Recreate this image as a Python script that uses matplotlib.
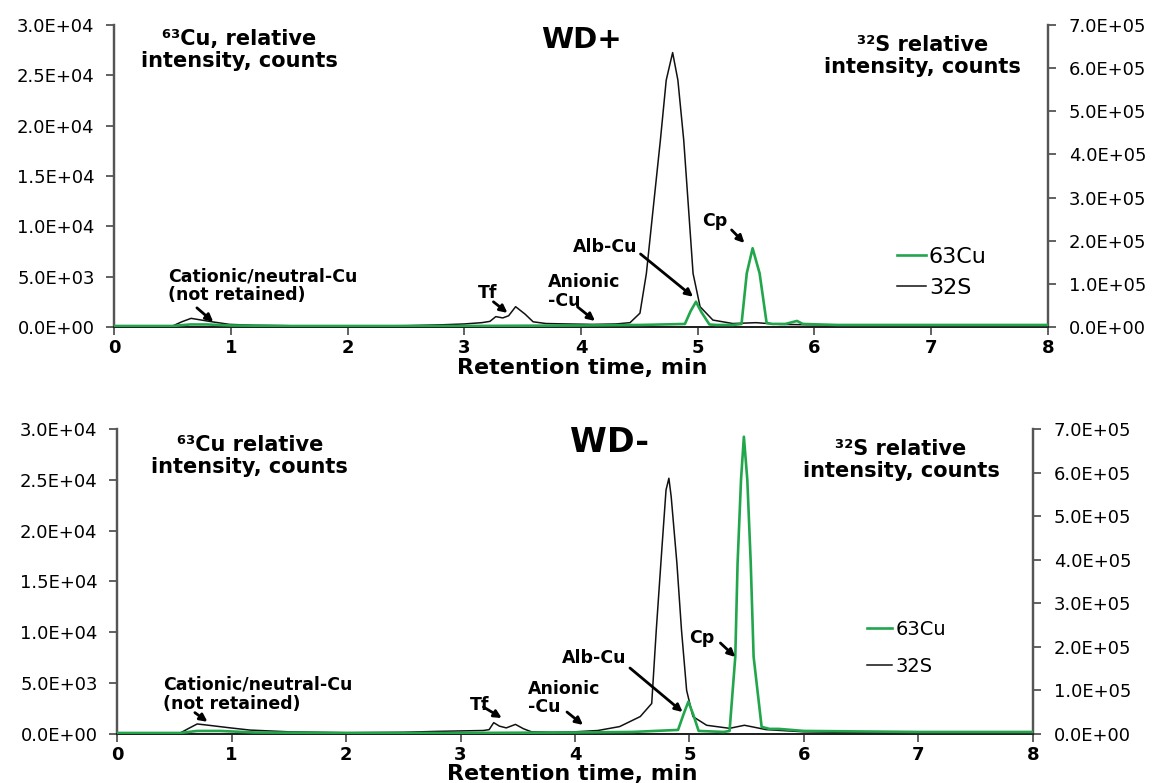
import numpy as np
import matplotlib
matplotlib.use("Agg")
import matplotlib.pyplot as plt
from matplotlib.ticker import FuncFormatter, MultipleLocator

plt.rcParams['font.family'] = ['DejaVu Sans']

# ---- WD+ (top panel) ----
wdp_s_t = [0.0, 0.5, 0.58, 0.66, 0.75, 0.84, 0.99, 1.2, 1.6, 2.0, 2.5, 2.8, 3.0, 3.15,
           3.22, 3.27, 3.33, 3.38, 3.44, 3.52, 3.59, 3.7, 3.88, 4.1, 4.3, 4.42, 4.505,
           4.56, 4.62, 4.68, 4.73, 4.785, 4.83, 4.88, 4.92, 4.96, 5.02, 5.13, 5.3, 5.5,
           5.7, 6.0, 6.5, 7.0, 7.5, 8.0]
wdp_s = [2e3, 2e3, 1.2e4, 2.0e4, 1.6e4, 1.2e4, 6e3, 4e3, 2.5e3, 2e3, 3e3, 5e3, 7e3, 1.0e4,
         1.3e4, 2.4e4, 2.1e4, 2.6e4, 4.7e4, 3.0e4, 1.2e4, 8e3, 7e3, 6e3, 7e3, 1.0e4, 3.2e4,
         1.24e5, 2.79e5, 4.33e5, 5.72e5, 6.36e5, 5.72e5, 4.33e5, 2.79e5, 1.24e5, 4.7e4,
         1.6e4, 8e3, 1.0e4, 6e3, 5e3, 4e3, 4e3, 3e3, 3e3]
wdp_cu_t = [0.0, 0.5, 0.65, 0.8, 1.0, 1.5, 2.0, 3.0, 4.0, 4.5, 4.89, 4.94, 4.985, 5.03,
            5.10, 5.16, 5.3, 5.375, 5.42, 5.47, 5.53, 5.59, 5.64, 5.75, 5.85, 5.9, 6.2,
            7.0, 8.0]
wdp_cu = [100, 100, 250, 250, 150, 100, 100, 100, 150, 200, 300, 1600, 2510, 1500, 250,
          200, 200, 300, 5330, 7820, 5330, 400, 300, 300, 600, 300, 200, 200, 200]

# ---- WD- (bottom panel) ----
wdm_s_t = [0.0, 0.55, 0.62, 0.70, 0.8, 0.99, 1.16, 1.5, 2.0, 2.5, 2.8, 3.0, 3.2, 3.25,
           3.29, 3.34, 3.40, 3.48, 3.55, 3.62, 3.8, 4.0, 4.2, 4.39, 4.57, 4.67, 4.71,
           4.76, 4.795, 4.82, 4.84, 4.89, 4.93, 4.975, 5.03, 5.15, 5.35, 5.48, 5.67,
           6.0, 6.5, 7.0, 7.5, 8.0]
wdm_s = [2e3, 2e3, 1.2e4, 2.3e4, 2.0e4, 1.4e4, 9e3, 5e3, 3e3, 4e3, 6e3, 7e3, 8e3, 1.0e4,
         2.6e4, 1.8e4, 1.4e4, 2.2e4, 1.2e4, 5e3, 4e3, 5e3, 8e3, 1.7e4, 4.0e4, 7.0e4,
         2.39e5, 4.3e5, 5.6e5, 5.87e5, 5.45e5, 3.92e5, 2.39e5, 1.0e5, 4.0e4, 2.0e4,
         1.3e4, 2.0e4, 1.0e4, 5e3, 3e3, 3e3, 3e3, 3e3]
wdm_cu_t = [0.0, 0.55, 0.7, 0.9, 1.2, 2.0, 3.0, 4.0, 4.5, 4.90, 4.95, 4.99, 5.03, 5.08,
            5.3, 5.35, 5.40, 5.42, 5.45, 5.475, 5.505, 5.535, 5.56, 5.63, 5.7, 5.78,
            6.0, 7.0, 8.0]
wdm_cu = [100, 100, 300, 300, 150, 100, 100, 150, 200, 400, 2000, 3180, 2000, 300,
          200, 300, 7600, 16800, 25000, 29240, 25000, 16800, 7600, 700, 500, 500,
          300, 200, 200]

# annotation labels: (text, text x, text y, arrow tail, arrow head) in (min, Cu counts)
wdp_notes = [
    ("Cationic/neutral-Cu\n(not retained)", 0.46, 4100, (0.71, 1900), (0.85, 500)),
    ("Tf", 3.12, 3400, (3.25, 2500), (3.37, 1400)),
    ("Anionic\n-Cu", 3.72, 3500, (3.97, 2000), (4.12, 600)),
    ("Alb-Cu", 3.93, 7950, (4.51, 7250), (4.96, 3000)),
    ("Cp", 5.04, 10500, (5.29, 9640), (5.40, 8340)),
]
wdm_notes = [
    ("Cationic/neutral-Cu\n(not retained)", 0.40, 3900, (0.68, 2100), (0.79, 1200)),
    ("Tf", 3.08, 2850, (3.20, 2660), (3.36, 1570)),
    ("Anionic\n-Cu", 3.59, 3540, (3.93, 2160), (4.07, 890)),
    ("Alb-Cu", 3.89, 7470, (4.48, 6490), (4.94, 2160)),
    ("Cp", 5.00, 9440, (5.27, 8950), (5.40, 7570)),
]

GREEN = '#22a64c'


def sci(v, pos):
    return f"{v:.1E}"


def panel(fig, rect, s_t, s, cu_t, cu, notes, title, title_pos, title_size,
          cu_label, cu_pos, s_pos, xlab_pos, leg_anchor, leg_size, leg_space):
    ax = fig.add_axes(rect)
    ax2 = ax.twinx()
    l_cu, = ax.plot(cu_t, cu, color=GREEN, lw=1.9, label='63Cu', zorder=3)
    l_s, = ax2.plot(s_t, s, color='#111111', lw=1.1, label='32S')
    ax.set_zorder(ax2.get_zorder() + 1)
    ax.patch.set_visible(False)

    ax.set_xlim(0, 8)
    ax.set_ylim(0, 3e4)
    ax2.set_ylim(0, 7e5)
    ax.xaxis.set_major_locator(MultipleLocator(1))
    ax.yaxis.set_major_locator(MultipleLocator(5e3))
    ax2.yaxis.set_major_locator(MultipleLocator(1e5))
    ax.yaxis.set_major_formatter(FuncFormatter(sci))
    ax2.yaxis.set_major_formatter(FuncFormatter(sci))

    for a in (ax, ax2):
        a.spines['top'].set_visible(False)
        a.spines['left'].set_color('#555555')
        a.spines['right'].set_color('#555555')
        a.spines['left'].set_linewidth(1.6)
        a.spines['right'].set_linewidth(1.6)
        a.spines['bottom'].set_color('#222222')
        a.spines['bottom'].set_linewidth(1.4)
    ax.tick_params(axis='y', direction='out', length=6, width=1.3, color='#555555',
                   labelsize=13, pad=8)
    ax2.tick_params(axis='y', direction='out', length=6, width=1.3, color='#555555',
                    labelsize=13, pad=9)
    ax.tick_params(axis='x', direction='out', length=6, width=1.3, color='#555555',
                   labelsize=13, pad=3)
    for lab in ax.get_xticklabels():
        lab.set_fontweight('bold')

    ax.text(xlab_pos[0], xlab_pos[1], 'Retention time, min', transform=ax.transAxes,
            ha='center', va='center', fontsize=16, fontweight='bold')
    ax.text(title_pos[0], title_pos[1], title, transform=ax.transAxes,
            ha='center', va='center', fontsize=title_size, fontweight='bold')
    ax.text(cu_pos[0], cu_pos[1], cu_label, transform=ax.transAxes, ha='center',
            va='center', fontsize=15, fontweight='bold', linespacing=1.1)
    ax.text(s_pos[0], s_pos[1], '\u00b3\u00b2S relative\nintensity, counts',
            transform=ax.transAxes, ha='center', va='center', fontsize=15,
            fontweight='bold', linespacing=1.1)

    for txt, tx, ty, tail, head in notes:
        ax.text(tx, ty, txt, ha='left', va='center', fontsize=12.5, fontweight='bold',
                linespacing=1.05)
        ax.annotate('', xy=head, xytext=tail,
                    arrowprops=dict(arrowstyle='-|>', color='black', lw=2,
                                    mutation_scale=11, shrinkA=0, shrinkB=0))

    ax2.legend([l_cu, l_s], ['63Cu', '32S'], loc='upper left', bbox_to_anchor=leg_anchor,
               frameon=False, fontsize=leg_size, handlelength=1.3, handletextpad=0.15,
               borderaxespad=0, borderpad=0, labelspacing=leg_space)
    return ax


fig = plt.figure(figsize=(11.53, 7.83), dpi=100)

panel(fig, [0.0989, 0.5824, 0.810, 0.3857], wdp_s_t, wdp_s, wdp_cu_t, wdp_cu, wdp_notes,
      'WD+', (0.501, 0.95), 21, '\u2076\u00b3Cu, relative\nintensity, counts',
      (0.134, 0.917), (0.866, 0.897), (0.501, -0.135), (0.838, 0.265), 16, 0.5)

panel(fig, [0.1015, 0.0626, 0.7944, 0.3895], wdm_s_t, wdm_s, wdm_cu_t, wdm_cu, wdm_notes,
      'WD-', (0.538, 0.957), 24, '\u2076\u00b3Cu relative\nintensity, counts',
      (0.145, 0.911), (0.856, 0.898), (0.497, -0.13), (0.819, 0.375), 14, 0.95)

fig.savefig('out.png', dpi=100)
